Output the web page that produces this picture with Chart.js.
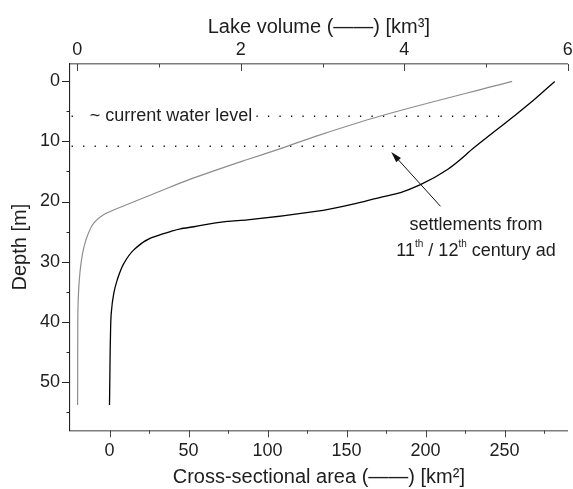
<!DOCTYPE html>
<html>
<head>
<meta charset="utf-8">
<script src="https://cdn.jsdelivr.net/npm/chart.js@4/dist/chart.umd.min.js"></script>
<style>
  html, body { margin: 0; padding: 0; background: #ffffff; }
  #c { display: block; }
</style>
</head>
<body>
<canvas id="c" width="573" height="489"></canvas>
<script>
// ---------- data ----------
// Lake volume curve (grey, top axis)
const volumeDepths = [0, 5.8, 8.9, 11.4, 13.05, 16.4, 18.3, 20.55, 22.2, 23.6, 25.3, 27.5, 30.8, 35.8, 41.4, 49.7, 53.9];
const volumeValues = [5.32, 3.70, 2.97, 2.44, 2.07, 1.36, 1.01, 0.60, 0.32, 0.20, 0.135, 0.082, 0.04, 0.012, 0.005, 0.004, 0.003];

// Cross-sectional area curve (black, bottom axis)
const areaDepths = [0, 3.05, 5.8, 10.9, 14.7, 17.2, 18.5, 19.3, 20.0, 21.7, 23.05, 23.3, 24.2, 24.55, 25.0, 26.1, 28.05, 30.3, 33.05, 35.3, 38.6, 42.5, 49.7, 53.9];
const areaValues = [281.8, 268.7, 255.9, 231.4, 213.7, 196.8, 184.2, 171.5, 161, 129.3, 87.2, 74.5, 53.4, 44.9, 38.6, 25.9, 15.4, 9.1, 4.9, 2.7, 1.1, 0.6, 0.2, 0];

// Reference levels (dotted lines)
const waterLevelDepth = 5.8;
const settlementDepth = 10.8;
const waterLevelLeft = [-24, -17];
const waterLevelRight = [93, 252];
const settlementSpan = [-24, 226.5];

// Tick values and labels
const depthTicks = [0, 10, 20, 30, 40, 50];
const depthTickLabels = ['0', '10', '20', '30', '40', '50'];
const depthMinorTicks = [5, 15, 25, 35, 45, 55];
const areaTicks = [0, 50, 100, 150, 200, 250];
const areaTickLabels = ['0', '50', '100', '150', '200', '250'];
const areaMinorTicks = [25, 75, 125, 175, 225, 275];
const volumeTicks = [0, 2, 4, 6];
const volumeTickLabels = ['0', '2', '4', '6'];
const volumeMinorTicks = [1, 3, 5];

// Texts
const xTitle = 'Cross-sectional area (——) [km²]';
const x2Title = 'Lake volume (——) [km³]';
const yTitle = 'Depth [m]';
const waterLabel = '~ current water level';
const settleLine1 = 'settlements from';
const settleLine2Parts = [['11', false], ['th', true], [' / 12', false], ['th', true], [' century ad', false]];

// ---------- chart ----------
const FONT = '"Liberation Sans", Arial, Helvetica, sans-serif';
const TXT = '#1e1e1e';

const tickPlugin = {
  id: 'axisTicks',
  afterDraw(chart) {
    const ctx = chart.ctx;
    const ca = chart.chartArea;
    const sx = chart.scales.x, sv = chart.scales.x2, sy = chart.scales.y;
    ctx.save();
    ctx.lineWidth = 1;
    ctx.strokeStyle = '#222';
    const drawH = (vals, scale, len) => vals.forEach(v => {
      const p = Math.round(scale.getPixelForValue(v)) + 0.5;
      ctx.beginPath(); ctx.moveTo(ca.left - len, p); ctx.lineTo(ca.left, p); ctx.stroke();
    });
    drawH(depthTicks, sy, 8); drawH(depthMinorTicks, sy, 3.5);
    ctx.strokeStyle = '#444';
    const drawB = (vals, len) => vals.forEach(v => {
      const p = Math.round(sx.getPixelForValue(v)) + 0.5;
      ctx.beginPath(); ctx.moveTo(p, ca.bottom); ctx.lineTo(p, ca.bottom + len); ctx.stroke();
    });
    drawB(areaTicks, 7); drawB(areaMinorTicks, 3.5);
    const drawT = (vals, len) => vals.forEach(v => {
      const p = Math.round(sv.getPixelForValue(v)) + 0.5;
      ctx.beginPath(); ctx.moveTo(p, ca.top); ctx.lineTo(p, ca.top + len); ctx.stroke();
    });
    drawT(volumeTicks, 7); drawT(volumeMinorTicks, 3.5);
    ctx.restore();
  }
};

const annotPlugin = {
  id: 'annotations',
  afterDatasetsDraw(chart) {
    const ctx = chart.ctx;
    const sx = chart.scales.x, sy = chart.scales.y;
    ctx.save();
    ctx.fillStyle = TXT;
    ctx.font = '18px ' + FONT;
    ctx.textBaseline = 'middle';
    ctx.textAlign = 'left';
    ctx.fillText(waterLabel, sx.getPixelForValue(-12.5), sy.getPixelForValue(waterLevelDepth));

    const cx = sx.getPixelForValue(232);
    ctx.textAlign = 'center';
    ctx.fillText(settleLine1, cx, sy.getPixelForValue(23.9));
    const y2 = sy.getPixelForValue(28.25);
    const normal = '18px ' + FONT, sup = '10px ' + FONT;
    let total = 0;
    settleLine2Parts.forEach(([t, s]) => { ctx.font = s ? sup : normal; total += ctx.measureText(t).width; });
    let xx = cx - total / 2;
    ctx.textAlign = 'left';
    settleLine2Parts.forEach(([t, s]) => {
      ctx.font = s ? sup : normal;
      ctx.fillText(t, xx, s ? y2 - 7 : y2);
      xx += ctx.measureText(t).width;
    });

    const x0 = sx.getPixelForValue(209.5), y0 = sy.getPixelForValue(20.8);
    const x1 = sx.getPixelForValue(178.3), y1 = sy.getPixelForValue(11.75);
    const ang = Math.atan2(y1 - y0, x1 - x0);
    const L = 11, W = 3.2;
    ctx.strokeStyle = '#111'; ctx.lineWidth = 1;
    ctx.beginPath(); ctx.moveTo(x0, y0);
    ctx.lineTo(x1 - Math.cos(ang) * (L - 2), y1 - Math.sin(ang) * (L - 2)); ctx.stroke();
    ctx.fillStyle = '#111';
    ctx.beginPath();
    ctx.moveTo(x1, y1);
    ctx.lineTo(x1 - Math.cos(ang) * L - Math.sin(ang) * W, y1 - Math.sin(ang) * L + Math.cos(ang) * W);
    ctx.lineTo(x1 - Math.cos(ang) * L + Math.sin(ang) * W, y1 - Math.sin(ang) * L - Math.cos(ang) * W);
    ctx.closePath(); ctx.fill();
    ctx.restore();
  }
};

const dotted = (xs, d) => ({
  data: xs.map(x => ({ x: x, y: d })),
  xAxisID: 'x', yAxisID: 'y',
  borderColor: '#111', borderWidth: 1.3, borderDash: [1.3, 10.2],
  pointRadius: 0, fill: false, tension: 0
});

const fixH = h => s => { s.height = h; s.paddingLeft = 0; s.paddingRight = 0; };

new Chart(document.getElementById('c'), {
  type: 'line',
  data: {
    datasets: [
      {
        label: 'Lake volume',
        data: volumeDepths.map((d, i) => ({ x: volumeValues[i], y: d })),
        xAxisID: 'x2', yAxisID: 'y',
        borderColor: '#8d8d8d', borderWidth: 1.2,
        pointRadius: 0, fill: false, cubicInterpolationMode: 'monotone'
      },
      {
        label: 'Cross-sectional area',
        data: areaDepths.map((d, i) => ({ x: areaValues[i], y: d })),
        xAxisID: 'x', yAxisID: 'y',
        borderColor: '#000000', borderWidth: 1.3,
        pointRadius: 0, fill: false, cubicInterpolationMode: 'monotone'
      },
      dotted(waterLevelLeft, waterLevelDepth),
      dotted(waterLevelRight, waterLevelDepth),
      dotted(settlementSpan, settlementDepth)
    ]
  },
  options: {
    indexAxis: 'y',
    responsive: false,
    animation: false,
    events: [],
    layout: { padding: { left: 0, right: 5.3, top: 0, bottom: 0 } },
    plugins: { legend: { display: false }, tooltip: { enabled: false } },
    scales: {
      x: {
        type: 'linear', position: 'bottom', min: -25, max: 290,
        afterBuildTicks: s => { s.ticks = areaTicks.map(v => ({ value: v })); },
        afterFit: fixH(58.7),
        grid: { display: false, drawTicks: false },
        border: { display: true, color: '#7d7d7d', width: 1.6 },
        ticks: {
          padding: 10, autoSkip: false, maxRotation: 0, color: TXT,
          font: { family: FONT, size: 18 },
          callback: (v, i) => areaTickLabels[i]
        },
        title: { display: true, text: xTitle, color: TXT, font: { family: FONT, size: 20 }, padding: { top: 0, bottom: 0 } }
      },
      x2: {
        type: 'linear', position: 'top', min: -0.09, max: 6,
        afterBuildTicks: s => { s.ticks = volumeTicks.map(v => ({ value: v })); },
        afterFit: fixH(64),
        grid: { display: false, drawTicks: false },
        border: { display: true, color: '#7d7d7d', width: 1.6 },
        ticks: {
          padding: 3.5, autoSkip: false, maxRotation: 0, color: TXT,
          font: { family: FONT, size: 18 },
          callback: (v, i) => volumeTickLabels[i]
        },
        title: { display: true, text: x2Title, color: TXT, font: { family: FONT, size: 20 }, padding: { top: 15, bottom: 0 } }
      },
      y: {
        type: 'linear', position: 'left', reverse: true, min: -2.9, max: 58.1,
        afterBuildTicks: s => { s.ticks = depthTicks.map(v => ({ value: v })); },
        afterFit: s => { s.width = 70; s.paddingTop = 0; s.paddingBottom = 0; },
        grid: { display: false, drawTicks: false },
        border: { display: true, color: '#222', width: 1.1 },
        ticks: {
          padding: 10, autoSkip: false, color: TXT,
          font: { family: FONT, size: 18 },
          callback: (v, i) => depthTickLabels[i]
        },
        title: { display: true, text: yTitle, color: TXT, font: { family: FONT, size: 20 }, padding: { top: 8, bottom: 0 } }
      }
    }
  },
  plugins: [tickPlugin, annotPlugin]
});
</script>
</body>
</html>
